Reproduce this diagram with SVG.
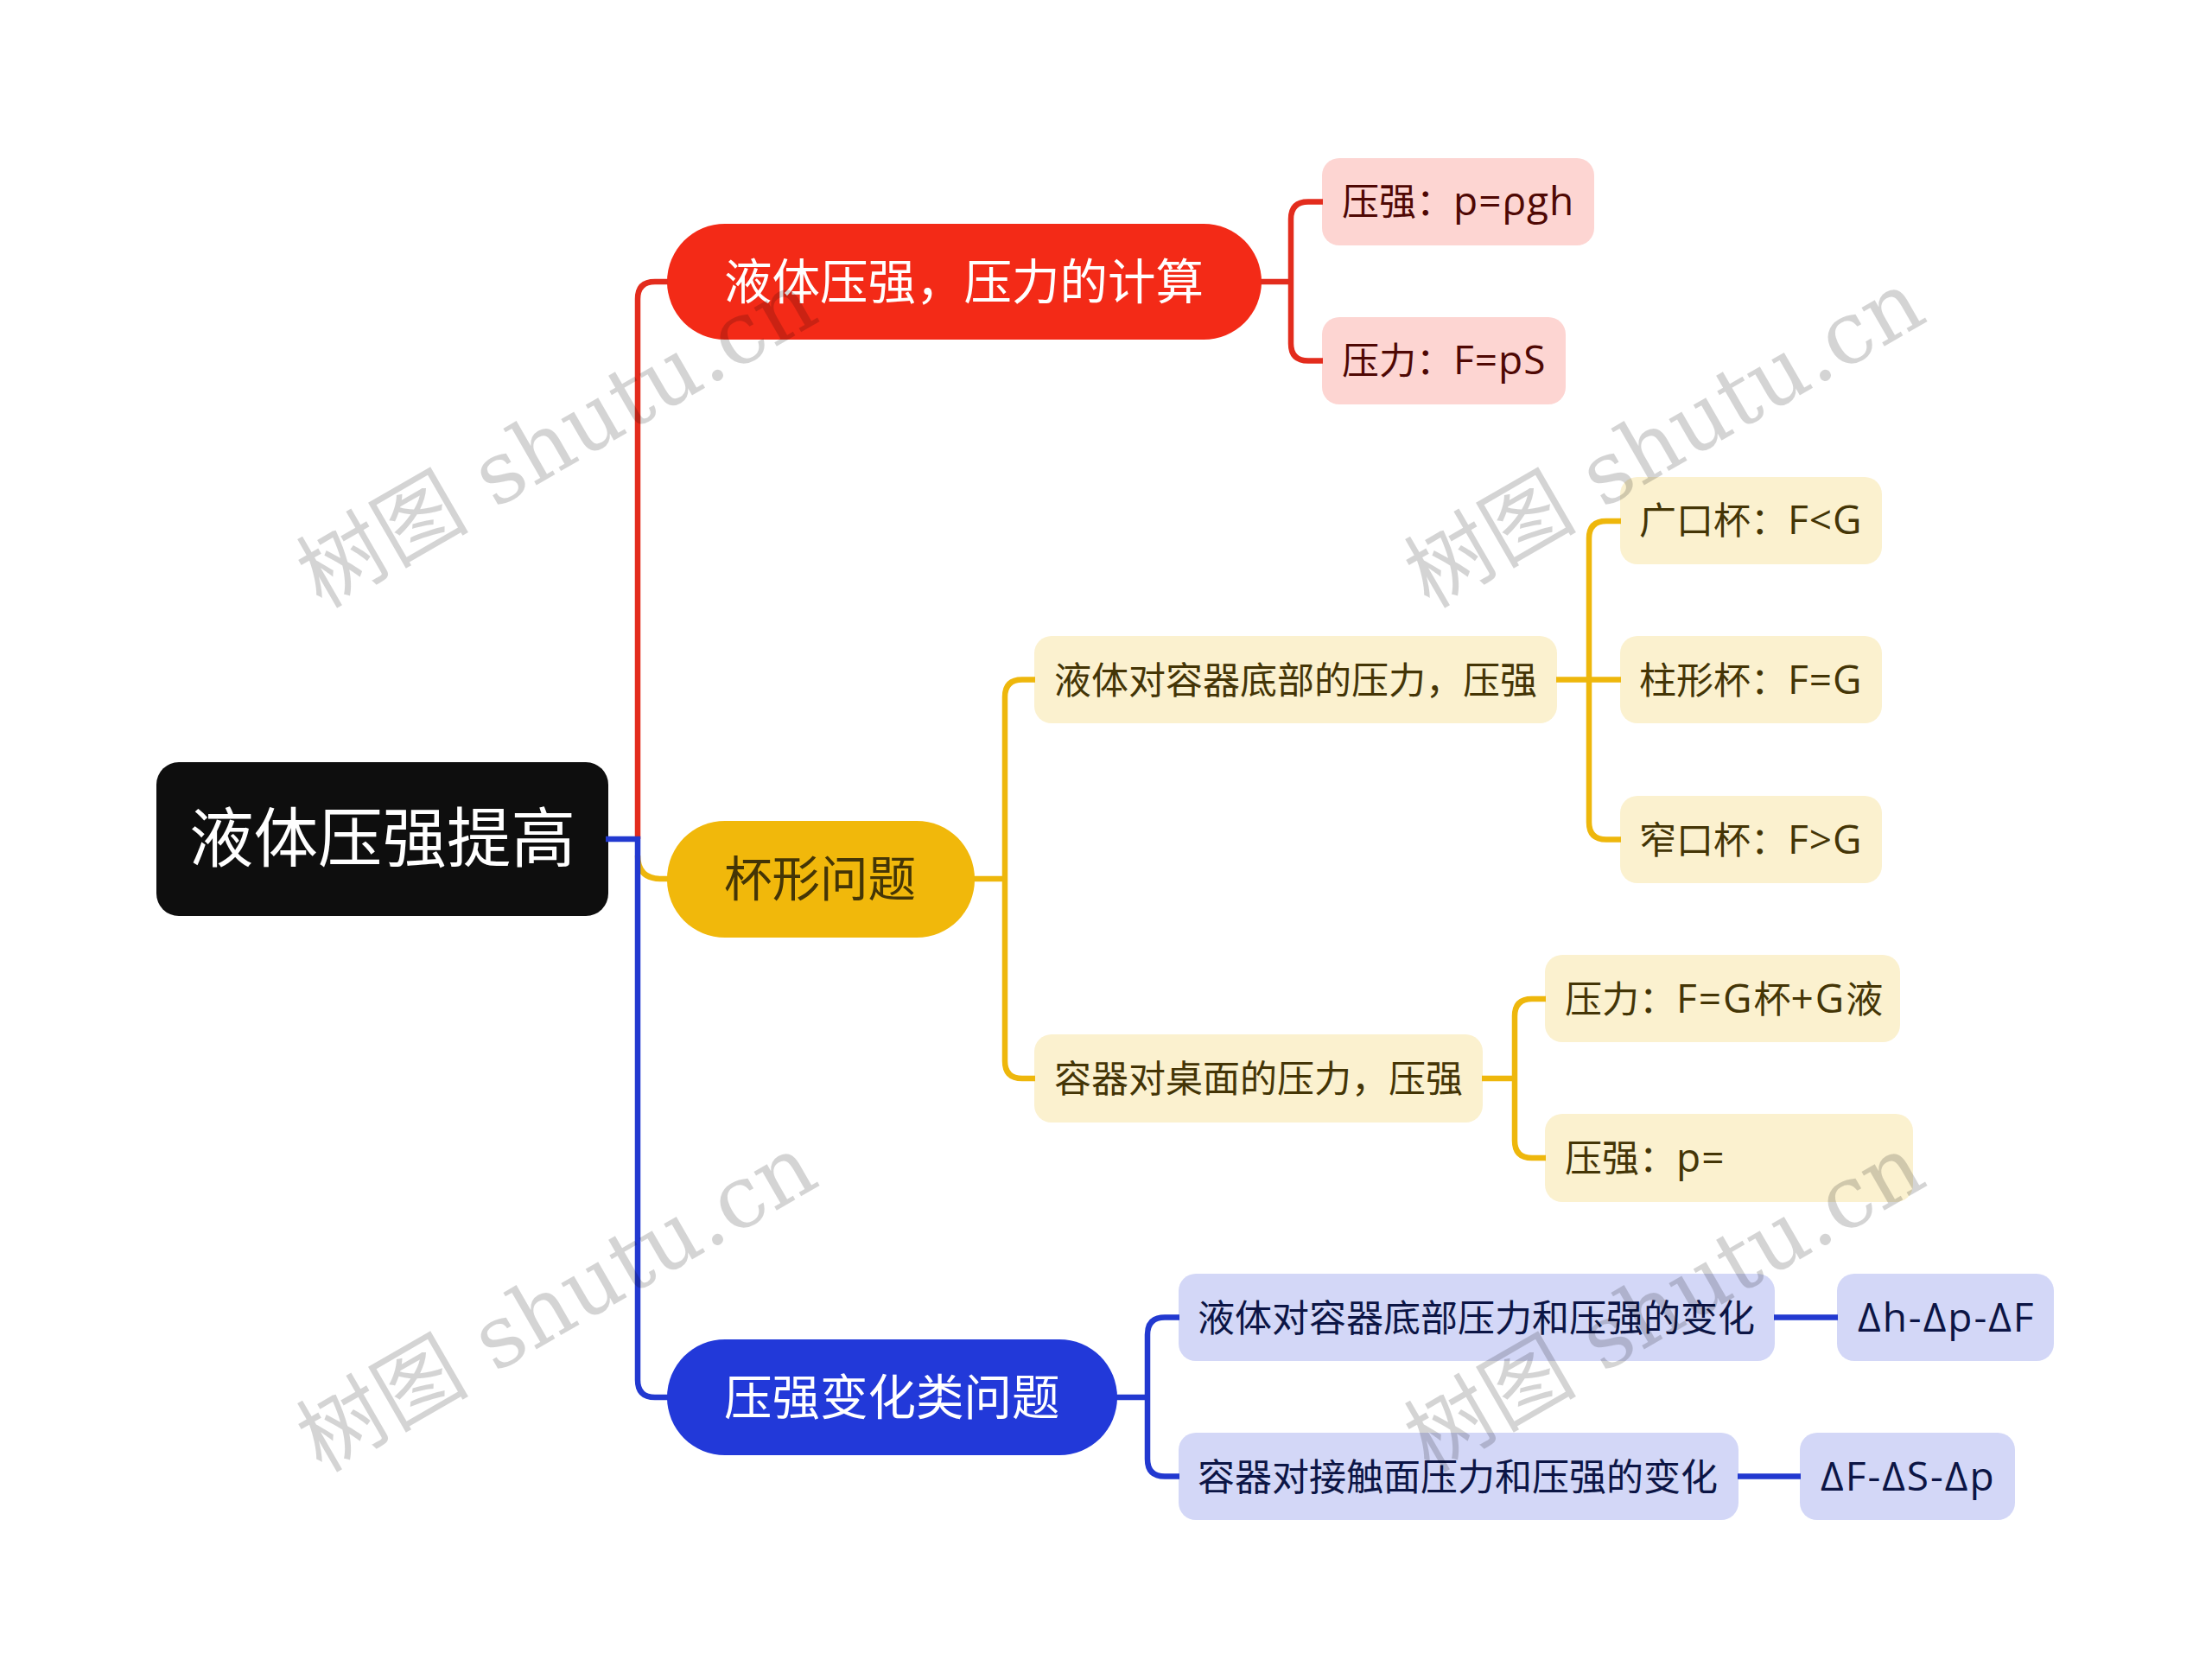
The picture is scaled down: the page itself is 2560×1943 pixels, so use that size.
<svg xmlns="http://www.w3.org/2000/svg" width="2560" height="1943" viewBox="0 0 2560 1943">
<style>
text{font-family:"Open Sans","Noto Sans CJK SC",sans-serif}
.root{font-size:74.500px;fill:#fff}
.b{font-size:55.500px;fill:#fff}
.l{font-size:43px}
.s{font-size:46px;letter-spacing:1px}
.s2{font-size:46px;letter-spacing:2px}
.rl{fill:#fdd5d2}.rt{fill:#4f0804}
.yl{fill:#fbf1cf}.yt{fill:#443506}
.bl{fill:#d3d7f7}.bt{fill:#0c1545}
.c{fill:none;stroke-width:6.500}
.cr{stroke:#e32c1d}.cy{stroke:#eeb70c}.cb{stroke:#2239d0}
.w{font-family:"DejaVu Serif","Noto Sans CJK SC",serif;font-size:100px;fill:#000;fill-opacity:.17}
</style>
<rect width="2560" height="1943" fill="#fff"/>
<g id="root"><rect x="181" y="882" width="523" height="178" rx="26" fill="#0e0e0e"/><text class="root" x="219" y="997">液体压强提高</text></g>
<g id="n1"><rect x="772" y="259" width="688" height="134" rx="67" fill="#f32a17"/><text class="b" x="838" y="346">液体压强，压力的计算</text></g>
<g id="n2"><rect x="772" y="950" width="356" height="135" rx="67" fill="#f1b80b"/><text class="b" x="838" y="1037" style="fill:#443506">杯形问题</text></g>
<g id="n3"><rect x="772" y="1550" width="521" height="134" rx="67" fill="#2239d9"/><text class="b" x="838" y="1637">压强变化类问题</text></g>
<g id="n1a"><rect class="rl" x="1530" y="183" width="315" height="101" rx="20"/><text class="l rt" x="1553" y="249">压强：<tspan class="s">p=ρgh</tspan></text></g>
<g id="n1b"><rect class="rl" x="1530" y="367" width="282" height="101" rx="20"/><text class="l rt" x="1553" y="433">压力：<tspan class="s">F=pS</tspan></text></g>
<g id="n2a"><rect class="yl" x="1197" y="736" width="605" height="101" rx="20"/><text class="l yt" x="1220" y="803">液体对容器底部的压力，压强</text></g>
<g id="n2b"><rect class="yl" x="1197" y="1197" width="519" height="102" rx="20"/><text class="l yt" x="1220" y="1264">容器对桌面的压力，压强</text></g>
<g id="n2a1"><rect class="yl" x="1875" y="552" width="303" height="101" rx="20"/><text class="l yt" x="1897" y="618">广口杯：<tspan class="s">F&lt;G</tspan></text></g>
<g id="n2a2"><rect class="yl" x="1875" y="736" width="303" height="101" rx="20"/><text class="l yt" x="1897" y="803">柱形杯：<tspan class="s">F=G</tspan></text></g>
<g id="n2a3"><rect class="yl" x="1875" y="921" width="303" height="101" rx="20"/><text class="l yt" x="1897" y="988">窄口杯：<tspan class="s">F&gt;G</tspan></text></g>
<g id="n2b1"><rect class="yl" x="1788" y="1105" width="411" height="101" rx="20"/><text class="l yt" x="1811" y="1172">压力：<tspan class="s2">F=G</tspan>杯<tspan class="s2">+G</tspan>液</text></g>
<g id="n2b2"><rect class="yl" x="1788" y="1289" width="426" height="102" rx="20"/><text class="l yt" x="1811" y="1356">压强：<tspan class="s">p=</tspan></text></g>
<g id="n3a"><rect class="bl" x="1364" y="1474" width="690" height="101" rx="20"/><text class="l bt" x="1386" y="1541">液体对容器底部压力和压强的变化</text></g>
<g id="n3b"><rect class="bl" x="1364" y="1658" width="648" height="101" rx="20"/><text class="l bt" x="1386" y="1725">容器对接触面压力和压强的变化</text></g>
<g id="n3a1"><rect class="bl" x="2126" y="1474" width="251" height="101" rx="20"/><text class="l bt s2" x="2150" y="1541">Δh-Δp-ΔF</text></g>
<g id="n3b1"><rect class="bl" x="2083" y="1658" width="249" height="101" rx="20"/><text class="l bt s2" x="2107" y="1725">ΔF-ΔS-Δp</text></g>
<g id="connectors">
<path class="c cr" d="M738 971V346Q738 326 758 326H773"/>
<path class="c cy" d="M738 990Q738 1017 765 1017H773"/>
<path class="c cb" d="M701 971H738V1597Q738 1617 758 1617H773"/>
<path class="c cr" d="M1459 326H1494M1531 233.500H1514Q1494 233.500 1494 253.500V397.500Q1494 417.500 1514 417.500H1531"/>
<path class="c cy" d="M1127 1017H1163M1198 786.500H1183Q1163 786.500 1163 806.500V1228Q1163 1248 1183 1248H1198"/>
<path class="c cy" d="M1801 786.500H1876M1876 603H1859Q1839 603 1839 623V951.500Q1839 971.500 1859 971.500H1876"/>
<path class="c cy" d="M1715 1248H1753M1789 1156H1773Q1753 1156 1753 1176V1320Q1753 1340 1773 1340H1789"/>
<path class="c cb" d="M1292 1617H1328M1365 1524.500H1348Q1328 1524.500 1328 1544.500V1688.500Q1328 1708.500 1348 1708.500H1365"/>
<path class="c cb" d="M2053 1524.500H2127M2011 1708.500H2084"/>
</g>
<g id="watermarks">
<text class="w" transform="translate(372 705) rotate(-30)">树图 shutu.cn</text>
<text class="w" transform="translate(1654 705) rotate(-30)">树图 shutu.cn</text>
<text class="w" transform="translate(372 1705) rotate(-30)">树图 shutu.cn</text>
<text class="w" transform="translate(1654 1705) rotate(-30)">树图 shutu.cn</text>
</g>
</svg>
